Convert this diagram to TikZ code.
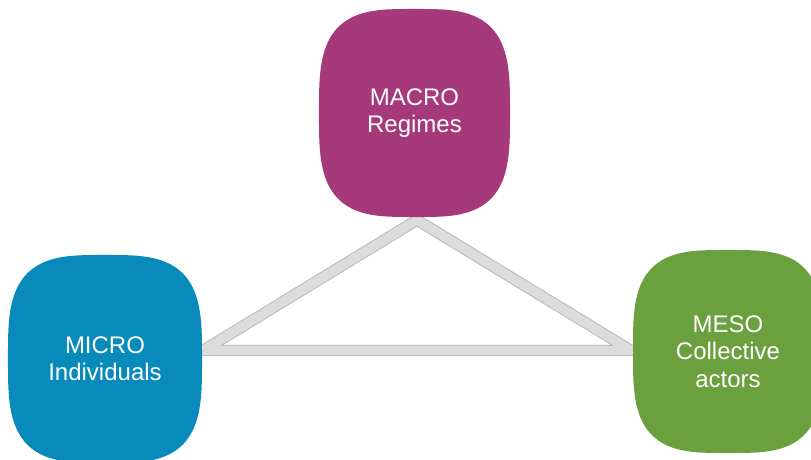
\documentclass[tikz,border=0pt]{standalone}
\usepackage{fontspec}
\setmainfont{Liberation Sans}
\definecolor{macroc}{RGB}{166,57,122}
\definecolor{microc}{RGB}{8,138,187}
\definecolor{mesoc}{RGB}{106,160,62}
\definecolor{bandfill}{RGB}{220,220,220}
\definecolor{bandedge}{RGB}{185,185,185}
\newcommand{\blobshape}[4]{%
  \begin{scope}[shift={(#1)}]
    \fill[#4] plot[domain=1:361, samples=181, variable=\t]
      ({#2*sign(cos(\t))*pow(abs(cos(\t)),0.6)},
       {#3*sign(sin(\t))*pow(abs(sin(\t)),0.6)}) -- cycle;
  \end{scope}}
\begin{document}
\begin{tikzpicture}[x=0.75pt,y=-0.75pt,
  lbl/.style={text=white, font=\fontsize{18}{20.5}\selectfont, align=center, inner sep=0pt},
  bandout/.style={draw=bandedge, line width=8.6pt, miter limit=10},
  bandin/.style={draw=bandfill, line width=7.1pt, miter limit=10}]
\useasboundingbox (0,0) rectangle (811,460);
\clip (0,0) rectangle (811,460);
\coordinate (cmacro) at (414.5,113);
\coordinate (cmicro) at (105,359);
\coordinate (cmeso) at (728,351.5);
\coordinate (ta) at (417,220);
\coordinate (tl) at (203,350.5);
\coordinate (tr) at (631,350.5);
\draw[bandout] (ta) -- (tl) -- (tr) -- cycle;
\draw[bandin] (ta) -- (tl) -- (tr) -- cycle;
\blobshape{cmacro}{95.5}{104}{macroc}
\blobshape{cmicro}{97}{104}{microc}
\blobshape{cmeso}{95}{101.5}{mesoc}
\node[lbl] (macro) at (cmacro) {MACRO\\Regimes};
\node[lbl] (micro) at (cmicro) {MICRO\\Individuals};
\node[lbl] (meso) at (cmeso) {MESO\\Collective\\actors};
\end{tikzpicture}
\end{document}
